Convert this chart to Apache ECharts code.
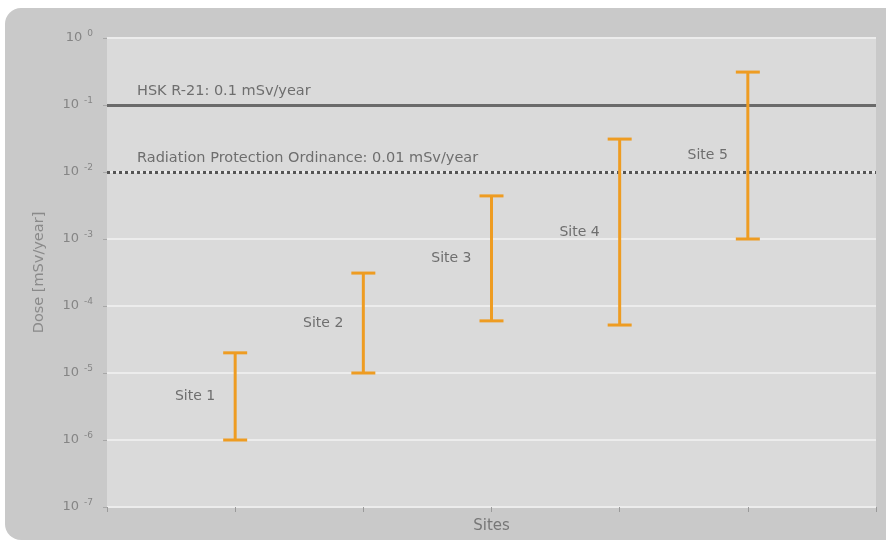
<!DOCTYPE html>
<html>
<head>
<meta charset="utf-8">
<script src="https://cdn.jsdelivr.net/npm/echarts@6/dist/echarts.min.js"></script>
<style>
  html, body { margin: 0; padding: 0; background: #ffffff; }
  #chart { width: 886px; height: 545px; }
</style>
</head>
<body>
<div id="chart"></div>
<script>
// Measured dose ranges per site (mSv/year)
const sites = ['Site 1', 'Site 2', 'Site 3', 'Site 4', 'Site 5'];
const sitePositions = [1, 2, 3, 4, 5];
const doseMin = [1e-6, 1e-5, 6e-5, 5.2e-5, 1e-3];
const doseMax = [2e-5, 3.1e-4, 4.4e-3, 3.1e-2, 0.31];

// Regulatory limits
const limitValues = [0.1, 0.01];
const limitLabels = ['HSK R-21: 0.1 mSv/year', 'Radiation Protection Ordinance: 0.01 mSv/year'];

const FONT = '"DejaVu Sans", "Open Sans", sans-serif';
const ORANGE = '#ee9c22';

const rangeData = sites.map((name, i) => [sitePositions[i], doseMin[i], doseMax[i], name]);

const chart = echarts.init(document.getElementById('chart'), null, { renderer: 'canvas' });

chart.setOption({
  backgroundColor: '#ffffff',
  animation: false,
  graphic: [{
    type: 'rect',
    z: -10,
    silent: true,
    shape: { x: 5, y: 8, width: 900, height: 532, r: 16 },
    style: { fill: '#c9c9c9' }
  }],
  grid: {
    left: 107, right: 10, top: 38, bottom: 38,
    show: true, backgroundColor: '#dadada', borderWidth: 0
  },
  xAxis: {
    type: 'value',
    min: 0, max: 6, interval: 1,
    name: 'Sites',
    nameLocation: 'middle',
    nameGap: 12,
    nameTextStyle: { color: '#777777', fontFamily: FONT, fontSize: 15 },
    axisLine: { show: false },
    axisTick: { show: true, length: 5, lineStyle: { color: '#9a9a9a', width: 1 } },
    axisLabel: { show: false },
    splitLine: { show: false }
  },
  yAxis: {
    type: 'log',
    logBase: 10,
    min: 1e-7, max: 1,
    name: 'Dose [mSv/year]',
    nameLocation: 'middle',
    nameGap: 60,
    nameRotate: 90,
    nameTextStyle: { color: '#8a8a8a', fontFamily: FONT, fontSize: 14.5 },
    axisLine: { show: false },
    axisTick: { show: true, length: 4, lineStyle: { color: '#a8a8a8', width: 1 } },
    splitLine: { show: true, lineStyle: { color: '#ececec', width: 2 } },
    axisLabel: {
      margin: 14,
      formatter: function (v) {
        const e = Math.round(Math.log10(v));
        return '{b|10}{s|' + (e === 0 ? '0' : e) + '}';
      },
      rich: {
        b: { fontFamily: FONT, fontSize: 13, color: '#858585' },
        s: { fontFamily: FONT, fontSize: 9, color: '#858585', verticalAlign: 'top', padding: [0, 0, 9, 5] }
      }
    }
  },
  series: [
    {
      type: 'custom',
      name: 'Dose range',
      data: rangeData,
      encode: { x: 0, y: [1, 2] },
      renderItem: function (params, api) {
        const x = api.value(0);
        const lo = api.coord([x, api.value(1)]);
        const hi = api.coord([x, api.value(2)]);
        const mid = api.coord([x, Math.sqrt(api.value(1) * api.value(2))]);
        const half = 12;
        const st = { stroke: ORANGE, lineWidth: 3 };
        return {
          type: 'group',
          children: [
            { type: 'line', shape: { x1: lo[0], y1: lo[1], x2: hi[0], y2: hi[1] }, style: st },
            { type: 'line', shape: { x1: hi[0] - half, y1: hi[1], x2: hi[0] + half, y2: hi[1] }, style: st },
            { type: 'line', shape: { x1: lo[0] - half, y1: lo[1], x2: lo[0] + half, y2: lo[1] }, style: st },
            {
              type: 'text',
              x: mid[0] - 20, y: mid[1],
              style: {
                text: api.value(3),
                fill: '#6e6e6e',
                font: '14px ' + FONT,
                align: 'right',
                verticalAlign: 'middle'
              }
            }
          ]
        };
      },
      z: 5
    },
    {
      type: 'line',
      name: 'Limits',
      data: [],
      silent: true,
      markLine: {
        silent: true,
        symbol: ['none', 'none'],
        animation: false,
        label: {
          position: 'insideStartTop',
          distance: [30, 6],
          color: '#6e6e6e',
          fontFamily: FONT,
          fontSize: 14.5
        },
        data: [
          {
            yAxis: limitValues[0],
            label: { formatter: limitLabels[0] },
            lineStyle: { color: '#6a6a6a', width: 3, type: 'solid' }
          },
          {
            yAxis: limitValues[1],
            label: { formatter: limitLabels[1] },
            lineStyle: { color: '#555555', width: 3, type: [3, 3] }
          }
        ]
      }
    }
  ]
});
</script>
</body>
</html>
